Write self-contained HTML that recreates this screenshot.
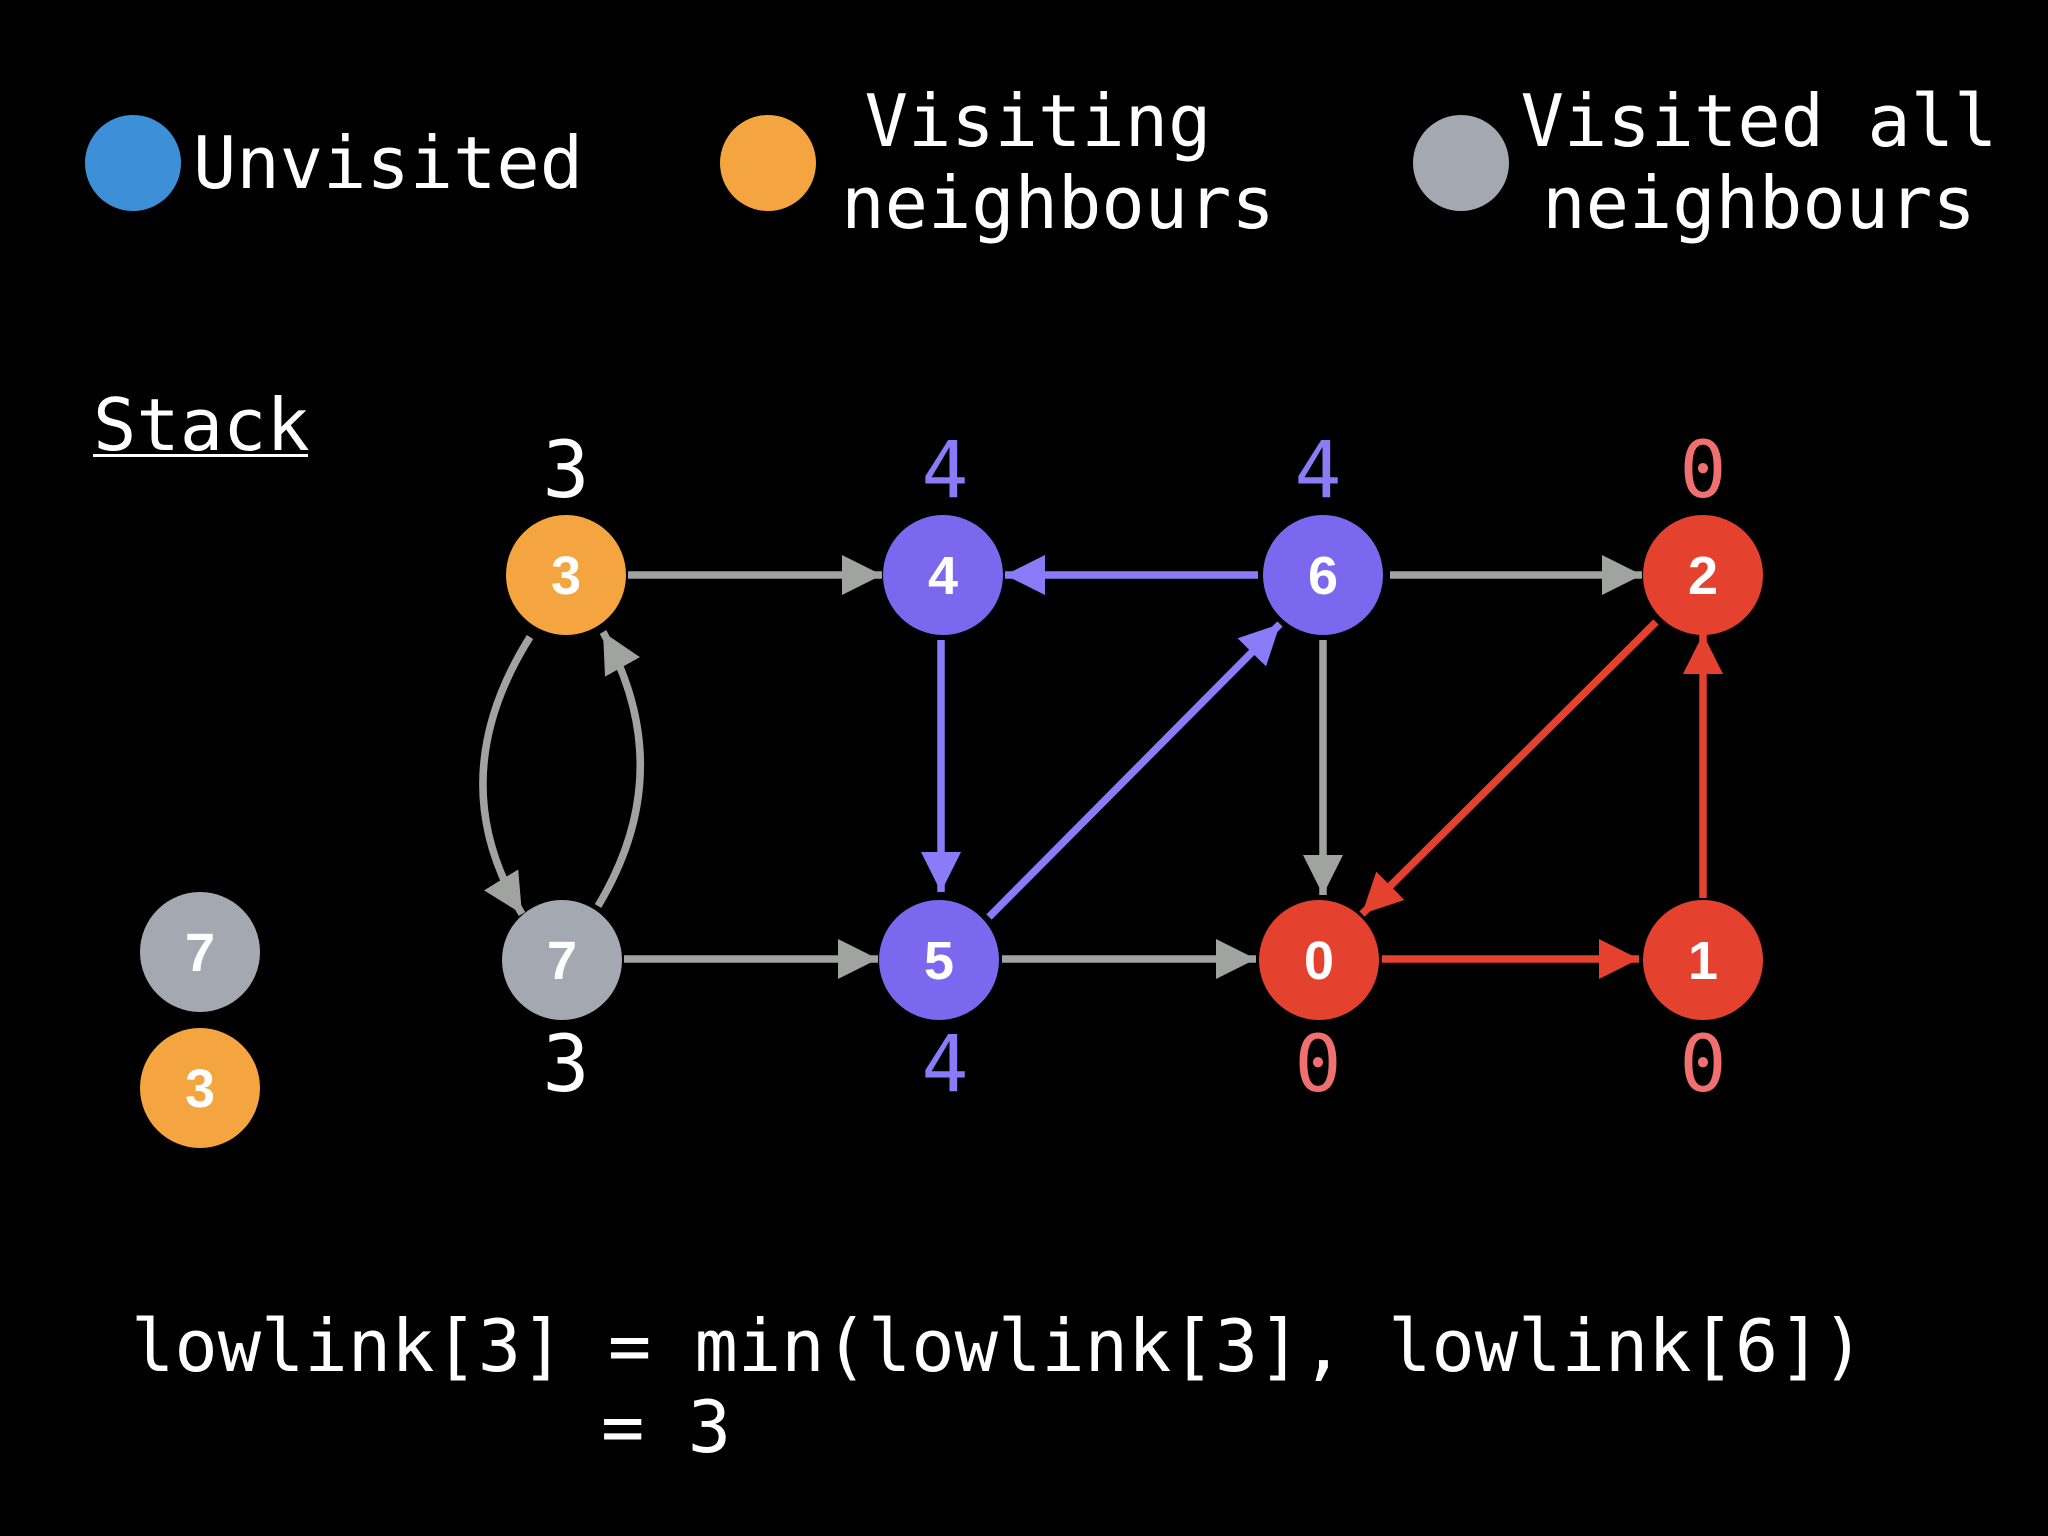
<!DOCTYPE html>
<html><head><meta charset="utf-8"><style>
html,body{margin:0;padding:0;background:#000;}
svg{display:block}
.m{font-family:"DejaVu Sans Mono","Liberation Mono",monospace;fill:#fff}
.n{font-family:"Liberation Sans",sans-serif;font-weight:bold;fill:#fff;font-size:54px;text-anchor:middle}
</style></head><body>
<svg width="2048" height="1536" viewBox="0 0 2048 1536" xmlns="http://www.w3.org/2000/svg">
<defs>
<marker id="ag" markerUnits="userSpaceOnUse" markerWidth="42" markerHeight="42" refX="40" refY="20" orient="auto"><path d="M0,0 L40,20 L0,40 z" fill="#a0a3a0"/></marker>
<marker id="ap" markerUnits="userSpaceOnUse" markerWidth="42" markerHeight="42" refX="40" refY="20" orient="auto"><path d="M0,0 L40,20 L0,40 z" fill="#8a7cf8"/></marker>
<marker id="ar" markerUnits="userSpaceOnUse" markerWidth="42" markerHeight="42" refX="40" refY="20" orient="auto"><path d="M0,0 L40,20 L0,40 z" fill="#e5412f"/></marker>
</defs>
<rect width="2048" height="1536" fill="#000"/>
<circle cx="133" cy="163" r="48" fill="#3d8fd8"/>
<text class="m" x="193" y="188" font-size="72">Unvisited</text>
<circle cx="768" cy="163" r="48" fill="#f5a540"/>
<text class="m" x="1038" y="146" font-size="72" text-anchor="middle">Visiting</text>
<text class="m" x="1058" y="228" font-size="72" text-anchor="middle">neighbours</text>
<circle cx="1461" cy="163" r="48" fill="#a3a8b1"/>
<text class="m" x="1759" y="146" font-size="72" text-anchor="middle">Visited all</text>
<text class="m" x="1759" y="228" font-size="72" text-anchor="middle">neighbours</text>
<text class="m" x="93" y="450" font-size="72">Stack</text>
<rect x="93" y="454" width="215" height="3" fill="#fff"/>
<g fill="none" stroke-width="7.5">
<line x1="628" y1="575" x2="882" y2="575" stroke="#a0a3a0" marker-end="url(#ag)"/>
<line x1="1258" y1="575" x2="1005" y2="575" stroke="#8a7cf8" marker-end="url(#ap)"/>
<line x1="1390" y1="575" x2="1642" y2="575" stroke="#a0a3a0" marker-end="url(#ag)"/>
<line x1="941" y1="640" x2="941" y2="892" stroke="#8a7cf8" marker-end="url(#ap)"/>
<line x1="989" y1="917" x2="1280" y2="624" stroke="#8a7cf8" marker-end="url(#ap)"/>
<line x1="1323" y1="640" x2="1323" y2="895" stroke="#a0a3a0" marker-end="url(#ag)"/>
<line x1="1656" y1="622" x2="1362" y2="914" stroke="#e5412f" marker-end="url(#ar)"/>
<line x1="1703" y1="898" x2="1703" y2="634" stroke="#e5412f" marker-end="url(#ar)"/>
<line x1="624" y1="959" x2="878" y2="959" stroke="#a0a3a0" marker-end="url(#ag)"/>
<line x1="1002" y1="959" x2="1256" y2="959" stroke="#a0a3a0" marker-end="url(#ag)"/>
<line x1="1382" y1="959" x2="1639" y2="959" stroke="#e5412f" marker-end="url(#ar)"/>
<path d="M530,637 Q440,780 522,914" stroke="#a0a3a0" marker-end="url(#ag)"/>
<path d="M598,906 Q680,770 603,632" stroke="#a0a3a0" marker-end="url(#ag)"/>
</g>
<circle cx="566" cy="575" r="60" fill="#f5a540"/><text class="n" x="566" y="594">3</text>
<circle cx="943" cy="575" r="60" fill="#7b68ee"/><text class="n" x="943" y="594">4</text>
<circle cx="1323" cy="575" r="60" fill="#7b68ee"/><text class="n" x="1323" y="594">6</text>
<circle cx="1703" cy="575" r="60" fill="#e5412f"/><text class="n" x="1703" y="594">2</text>
<circle cx="562" cy="960" r="60" fill="#a3a8b1"/><text class="n" x="562" y="979">7</text>
<circle cx="939" cy="960" r="60" fill="#7b68ee"/><text class="n" x="939" y="979">5</text>
<circle cx="1319" cy="960" r="60" fill="#e5412f"/><text class="n" x="1319" y="979">0</text>
<circle cx="1703" cy="960" r="60" fill="#e5412f"/><text class="n" x="1703" y="979">1</text>
<circle cx="200" cy="952" r="60" fill="#a3a8b1"/><text class="n" x="200" y="971">7</text>
<circle cx="200" cy="1088" r="60" fill="#f5a540"/><text class="n" x="200" y="1107">3</text>
<g font-size="78" text-anchor="middle" class="m">
<text x="566" y="497">3</text>
<text x="945" y="497" style="fill:#8a7cf8">4</text>
<text x="1318" y="497" style="fill:#8a7cf8">4</text>
<text x="1703" y="497" style="fill:#f07070">0</text>
<text x="566" y="1091">3</text>
<text x="945" y="1091" style="fill:#8a7cf8">4</text>
<text x="1318" y="1091" style="fill:#f07070">0</text>
<text x="1703" y="1091" style="fill:#f07070">0</text>
</g>
<text class="m" x="131" y="1371" font-size="72" xml:space="preserve">lowlink[3] = min(lowlink[3], lowlink[6])</text>
<text class="m" x="601" y="1452" font-size="72" xml:space="preserve">= 3</text>
</svg>
</body></html>
